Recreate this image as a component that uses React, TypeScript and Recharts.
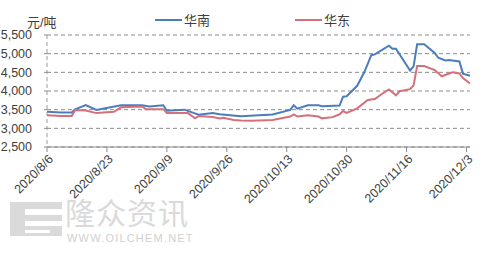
import { LineChart, Line, XAxis, YAxis, CartesianGrid, Legend } from "recharts";

// days counted from 2020/8/6
const southDays = [0, 4, 7, 8, 11, 14, 21, 27, 29, 33, 34, 39, 43, 47, 49, 55, 64, 69, 70, 71, 74, 77, 78, 83, 84, 85, 88, 90, 92, 93, 97, 98, 99, 103, 104, 105, 107, 110, 111, 113, 114, 117, 118, 120];
const southValues = [3444, 3423, 3423, 3507, 3620, 3493, 3620, 3620, 3585, 3620, 3472, 3500, 3366, 3408, 3380, 3324, 3373, 3493, 3620, 3528, 3620, 3620, 3592, 3610, 3848, 3860, 4140, 4500, 4960, 4980, 5215, 5130, 5130, 4550, 4660, 5250, 5250, 5020, 4890, 4820, 4830, 4790, 4465, 4410];

const eastDays = [0, 4, 7, 8, 11, 14, 19, 21, 27, 28, 33, 34, 40, 42, 43, 47, 49, 50, 53, 55, 58, 64, 69, 70, 71, 74, 77, 78, 81, 83, 84, 85, 88, 91, 93, 95, 97, 99, 100, 103, 104, 105, 107, 110, 112, 115, 117, 118, 120];
const eastValues = [3352, 3330, 3330, 3493, 3475, 3408, 3444, 3563, 3585, 3514, 3514, 3408, 3408, 3267, 3330, 3303, 3267, 3281, 3225, 3211, 3205, 3225, 3317, 3373, 3317, 3352, 3317, 3267, 3300, 3376, 3463, 3413, 3535, 3761, 3783, 3920, 4043, 3885, 3994, 4050, 4150, 4670, 4670, 4560, 4395, 4500, 4470, 4345, 4200];

const xTicks = [0, 17, 34, 51, 68, 85, 102, 119];
const xTickLabels = ["2020/8/6", "2020/8/23", "2020/9/9", "2020/9/26", "2020/10/13", "2020/10/30", "2020/11/16", "2020/12/3"];
const yTicks = [2500, 3000, 3500, 4000, 4500, 5000, 5500];

const BLUE = "#4A7EBB";
const RED = "#D5707B";
const FONT = "'Liberation Sans', Arial, 'Noto Sans CJK SC', sans-serif";

const southData = southDays.map((d, i) => ({ day: d, value: southValues[i] }));
const eastData = eastDays.map((d, i) => ({ day: d, value: eastValues[i] }));

function DateTick(props: any) {
  const { x, y, payload } = props;
  const idx = xTicks.indexOf(payload.value);
  return (
    <g transform={`translate(${x + 4},${y + 3})`}>
      <text
        x={0}
        y={0}
        dy={4}
        textAnchor="end"
        transform="rotate(-45)"
        fill="#404040"
        fontSize={12.5}
        fontFamily={FONT}
      >
        {xTickLabels[idx]}
      </text>
    </g>
  );
}

function LegendBox() {
  const items = [
    { name: "华南", color: BLUE, left: 155 },
    { name: "华东", color: RED, left: 295 },
  ];
  return (
    <div style={{ position: "absolute", left: 0, top: 0, width: 491, height: 30 }}>
      {items.map((it) => (
        <div key={it.name} style={{ position: "absolute", left: it.left, top: 10, display: "flex", alignItems: "center" }}>
          <div style={{ width: 27, height: 2, background: it.color, marginRight: 2 }} />
          <span style={{ fontSize: 13, color: "#404040", fontFamily: FONT }}>{it.name}</span>
        </div>
      ))}
    </div>
  );
}

export default function App() {
  return (
    <div style={{ position: "fixed", left: 0, top: 0, width: 491, height: 253, background: "#fff", overflow: "hidden" }}>
      {/* watermark */}
      <svg width={491} height={253} style={{ position: "absolute", left: 0, top: 0 }}>
        <rect x={10} y={202} width={52} height={34} fill="#dadada" />
        <rect x={25} y={209} width={37} height={6} fill="#fff" />
        <rect x={25} y={221} width={37} height={5} fill="#fff" />
        <rect x={25} y={230} width={25} height={3} fill="#fff" />
        <text x={65} y={224} fontSize={30} fill="#dadada" fontFamily="'Noto Sans CJK SC', sans-serif" letterSpacing={1}>
          隆众资讯
        </text>
        <text x={67} y={242} fontSize={11} fill="#d0d0d0" fontFamily={FONT} letterSpacing={1.2}>
          WWW.OILCHEM.NET
        </text>
      </svg>
      <div style={{ position: "absolute", left: 0, top: 0 }}>
        <LineChart width={491} height={253} margin={{ top: 35, right: 21, bottom: 76, left: 0 }}>
          <CartesianGrid horizontal vertical={false} stroke="#8c8c8c" strokeDasharray="4 3" />
          <XAxis
            type="number"
            dataKey="day"
            domain={[0, 120]}
            ticks={xTicks}
            interval={0}
            tick={<DateTick />}
            tickSize={5}
            tickLine={{ stroke: "#8c8c8c" }}
            axisLine={{ stroke: "#8c8c8c" }}
            allowDuplicatedCategory={false}
          />
          <YAxis
            type="number"
            domain={[2500, 5500]}
            ticks={yTicks}
            interval={0}
            width={47}
            tickSize={3}
            tickMargin={12}
            tickLine={{ stroke: "#8c8c8c" }}
            axisLine={{ stroke: "#9a9a9a", strokeDasharray: "4 3" }}
            tick={{ fill: "#404040", fontSize: 12.5, fontFamily: FONT }}
            tickFormatter={(v: number) => v.toLocaleString("en-US")}
          />
          <Legend content={() => null} />
          <Line data={southData} dataKey="value" name="华南" stroke={BLUE} strokeWidth={2} dot={false} isAnimationActive={false} />
          <Line data={eastData} dataKey="value" name="华东" stroke={RED} strokeWidth={2} dot={false} isAnimationActive={false} />
        </LineChart>
      </div>
      <LegendBox />
      <div style={{ position: "absolute", left: 27, top: 12, fontSize: 13, color: "#404040", fontFamily: FONT }}>元/吨</div>
    </div>
  );
}
